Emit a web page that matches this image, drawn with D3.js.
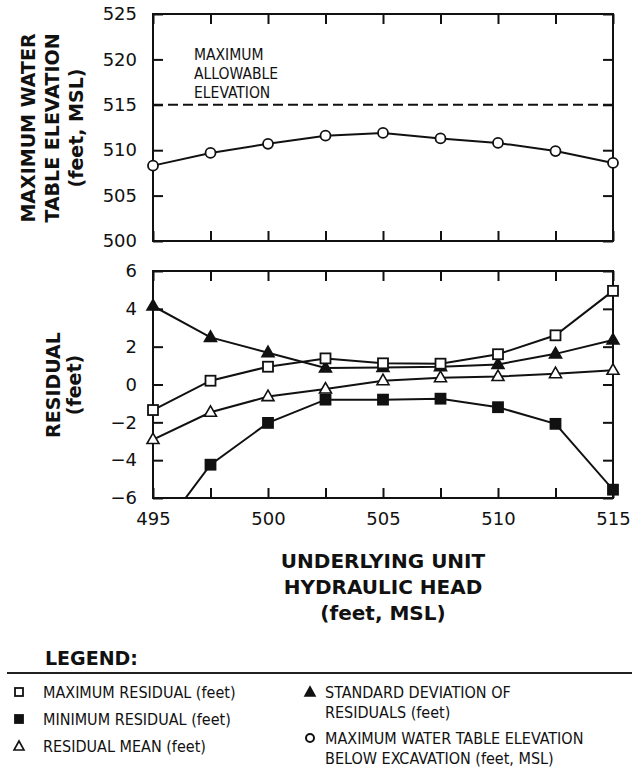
<!DOCTYPE html>
<html>
<head>
<meta charset="utf-8">
<script src="https://cdn.jsdelivr.net/npm/d3@7"></script>
<style>
  body { margin: 0; background: #fff; }
  svg text { font-family: "DejaVu Sans", Verdana, sans-serif; fill: #111; }
  svg text.cond { font-family: "DejaVu Sans Condensed", "DejaVu Sans", sans-serif; font-stretch: condensed; }
  .domain { display: none; }
  .tick line { stroke: #111; stroke-width: 2; }
</style>
</head>
<body>
<svg id="chart" width="642" height="768"></svg>
<script>
// underlying unit hydraulic head (feet, MSL)
var head = [495, 497.5, 500, 502.5, 505, 507.5, 510, 512.5, 515];
var maxWaterTable = [508.3, 509.7, 510.7, 511.6, 511.9, 511.3, 510.8, 509.9, 508.6];
var maxAllowable = 515;
var maxResidual = [-1.35, 0.2, 0.94, 1.38, 1.12, 1.1, 1.6, 2.6, 4.95];
var minResidual = [-8.3, -4.24, -2.03, -0.8, -0.8, -0.75, -1.2, -2.08, -5.56];
var meanResidual = [-2.91, -1.47, -0.64, -0.24, 0.2, 0.36, 0.42, 0.57, 0.75];
var stdResidual = [4.15, 2.49, 1.68, 0.87, 0.9, 0.94, 1.06, 1.62, 2.35];
var xTicks = [495, 497.5, 500, 502.5, 505, 507.5, 510, 512.5, 515];
var topTicks = [500, 505, 510, 515, 520, 525];
var botTicks = [-6, -4, -2, 0, 2, 4, 6];

var svg = d3.select('#chart');
var left = 153, right = 613;
var x = d3.scaleLinear().domain([495, 515]).range([left, right]);
var yTop = d3.scaleLinear().domain([500, 525]).range([241, 14]);
var yBot = d3.scaleLinear().domain([-6, 6]).range([498, 271]);

function panel(y, yTicks, showX){
  var g = svg.append('g');
  var r = y.range();
  g.append('g').attr('transform', 'translate(0,' + r[0] + ')')
   .call(d3.axisBottom(x).tickValues(xTicks).tickSizeInner(-10).tickSizeOuter(0)
     .tickPadding(14)
     .tickFormat(function(d){ return showX && d % 5 === 0 ? d : ''; }))
   .selectAll('text').style('font-size', '18px');
  g.append('g').attr('transform', 'translate(0,' + r[1] + ')')
   .call(d3.axisTop(x).tickValues(xTicks).tickSizeInner(-10).tickSizeOuter(0).tickFormat(''));
  g.append('g').attr('transform', 'translate(' + left + ',0)')
   .call(d3.axisLeft(y).tickValues(yTicks).tickSizeInner(-10).tickSizeOuter(0)
     .tickPadding(16)
     .tickFormat(function(d){ return d < 0 ? '\u2212' + Math.abs(d) : d; }))
   .selectAll('text').style('font-size', '18px');
  g.append('g').attr('transform', 'translate(' + right + ',0)')
   .call(d3.axisRight(y).tickValues(yTicks).tickSizeInner(-10).tickSizeOuter(0).tickFormat(''));
  g.append('rect')
   .attr('x', left).attr('y', r[1])
   .attr('width', right - left).attr('height', r[0] - r[1])
   .attr('fill', 'none').attr('stroke', '#111').attr('stroke-width', 2);
  return g;
}

panel(yTop, topTicks, false);
panel(yBot, botTicks, true);

svg.append('clipPath').attr('id', 'clipBot')
   .append('rect').attr('x', left).attr('y', 271).attr('width', right - left).attr('height', 227);

// markers
function marker(g, type, cx, cy){
  if (type == 'circle'){
    g.append('circle').attr('cx', cx).attr('cy', cy).attr('r', 5)
     .attr('fill', '#fff').attr('stroke', '#111').attr('stroke-width', 1.8);
  }
  else if (type == 'square' || type == 'fsquare'){
    g.append('rect').attr('x', cx - 5).attr('y', cy - 5).attr('width', 10).attr('height', 10)
     .attr('fill', type == 'fsquare' ? '#111' : '#fff').attr('stroke', '#111').attr('stroke-width', 1.8);
  }
  else {
    g.append('path')
     .attr('d', 'M' + cx + ',' + (cy - 6.5) + 'L' + (cx + 6) + ',' + (cy + 4) + 'L' + (cx - 6) + ',' + (cy + 4) + 'Z')
     .attr('fill', type == 'ftri' ? '#111' : '#fff').attr('stroke', '#111').attr('stroke-width', 1.6);
  }
}

function series(vals, y, type, clip){
  var line = d3.line().x(function(d, i){ return x(head[i]); }).y(function(d){ return y(d); });
  var g = svg.append('g');
  if (clip) g.attr('clip-path', 'url(#clipBot)');
  g.append('path').datum(vals).attr('d', line)
   .attr('fill', 'none').attr('stroke', '#111').attr('stroke-width', 2);
  vals.forEach(function(v, i){
    var d = y.domain();
    if (v >= d[0] && v <= d[1]) marker(svg, type, x(head[i]), y(v));
  });
}

// top panel
svg.append('line')
   .attr('x1', left).attr('x2', right)
   .attr('y1', yTop(maxAllowable)).attr('y2', yTop(maxAllowable))
   .attr('stroke', '#111').attr('stroke-width', 2).attr('stroke-dasharray', '10,5');
var note = svg.append('text').attr('class', 'cond').attr('x', 194).attr('y', 60).style('font-size', '15.5px');
['MAXIMUM', 'ALLOWABLE', 'ELEVATION'].forEach(function(t, i){
  note.append('tspan').attr('x', 194).attr('dy', i ? 19 : 0).text(t);
});
series(maxWaterTable, yTop, 'circle', false);

// bottom panel
series(minResidual, yBot, 'fsquare', true);
series(meanResidual, yBot, 'tri', true);
series(stdResidual, yBot, 'ftri', true);
series(maxResidual, yBot, 'square', true);

// axis titles
function multiline(lines, tx, ty, rotate, size, gap){
  var t = svg.append('text')
    .attr('transform', 'translate(' + tx + ',' + ty + ')' + (rotate ? ' rotate(-90)' : ''))
    .attr('text-anchor', 'middle')
    .style('font-size', size + 'px').style('font-weight', 'bold');
  lines.forEach(function(l, i){
    t.append('tspan').attr('x', 0).attr('dy', i ? gap : 0).text(l);
  });
}
multiline(['MAXIMUM WATER', 'TABLE ELEVATION', '(feet, MSL)'], 35, 128, true, 19, 24);
multiline(['RESIDUAL', '(feet)'], 60, 385, true, 19, 21);
multiline(['UNDERLYING UNIT', 'HYDRAULIC HEAD', '(feet, MSL)'], 383, 568, false, 20, 26);

// legend
svg.append('text').attr('x', 45).attr('y', 665)
   .style('font-size', '19px').style('font-weight', 'bold').text('LEGEND:');
svg.append('line').attr('x1', 7).attr('x2', 632).attr('y1', 673).attr('y2', 673)
   .attr('stroke', '#222').attr('stroke-width', 2);

var legendLeft = [
  {type: 'square', lines: ['MAXIMUM RESIDUAL (feet)'], y: 692},
  {type: 'fsquare', lines: ['MINIMUM RESIDUAL (feet)'], y: 719},
  {type: 'tri', lines: ['RESIDUAL MEAN (feet)'], y: 746}
];
var legendRight = [
  {type: 'ftri', lines: ['STANDARD DEVIATION OF', 'RESIDUALS (feet)'], y: 692},
  {type: 'circle', lines: ['MAXIMUM WATER TABLE ELEVATION', 'BELOW EXCAVATION (feet, MSL)'], y: 738}
];
function legendItem(item, mx, tx){
  var g = svg.append('g');
  if (item.type == 'circle'){
    g.append('circle').attr('cx', mx).attr('cy', item.y).attr('r', 4)
     .attr('fill', '#fff').attr('stroke', '#111').attr('stroke-width', 2);
  }
  else if (item.type == 'square' || item.type == 'fsquare'){
    g.append('rect').attr('x', mx - 4).attr('y', item.y - 4).attr('width', 8).attr('height', 8)
     .attr('fill', item.type == 'fsquare' ? '#111' : '#fff').attr('stroke', '#111').attr('stroke-width', 1.8);
  }
  else {
    g.append('path')
     .attr('d', 'M' + mx + ',' + (item.y - 5) + 'L' + (mx + 5) + ',' + (item.y + 4) + 'L' + (mx - 5) + ',' + (item.y + 4) + 'Z')
     .attr('fill', item.type == 'ftri' ? '#111' : '#fff').attr('stroke', '#111').attr('stroke-width', 1.6);
  }
  var t = g.append('text').attr('class', 'cond').attr('x', tx).attr('y', item.y + 6).style('font-size', '16px');
  item.lines.forEach(function(l, i){
    t.append('tspan').attr('x', tx).attr('dy', i ? 20 : 0).text(l);
  });
}
legendLeft.forEach(function(it){ legendItem(it, 19, 43); });
legendRight.forEach(function(it){ legendItem(it, 310, 325); });
</script>
</body>
</html>
